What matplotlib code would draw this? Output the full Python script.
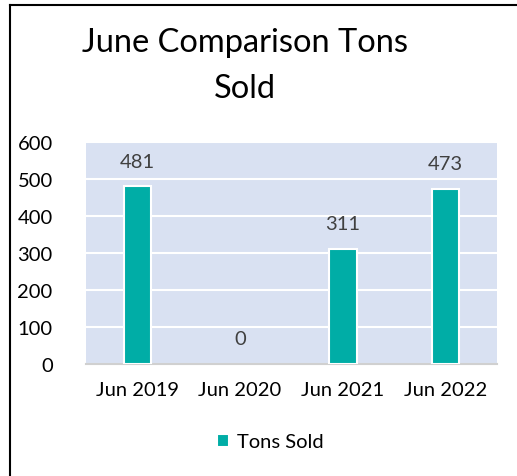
import matplotlib
matplotlib.use("Agg")
import matplotlib.pyplot as plt
from matplotlib.lines import Line2D

# data
months = ["Jun 2019", "Jun 2020", "Jun 2021", "Jun 2022"]
tons = [481, 0, 311, 473]
series_name = "Tons Sold"

plt.rcParams['font.family'] = ['Lato', 'DejaVu Sans']

W, H = 517, 477
fig = plt.figure(figsize=(W / 100, H / 100), dpi=100)
fig.patch.set_facecolor("white")

ax = fig.add_axes([86 / W, 1 - 365 / H, (497 - 86) / W, (365 - 143) / H])
ax.set_facecolor("#D9E1F2")

bar_color = "#00ADA6"
x = range(len(months))
bars = ax.bar(x, tons, width=0.27, color=bar_color, edgecolor="white",
              linewidth=[1.5 if v > 0 else 0 for v in tons], label=series_name, zorder=3)

for xi, v in zip(x, tons):
    ax.annotate(str(v), (xi, v), xytext=(0, 18), textcoords="offset points",
                ha="center", va="center", fontsize=14.5, color="#404040")

ax.set_xlim(-0.5, len(months) - 0.5)
ax.set_ylim(0, 600)
ax.set_yticks(range(0, 601, 100))
ax.set_xticks(list(x))
ax.set_xticklabels(months)
ax.yaxis.grid(True, color="white", linewidth=1.5, zorder=0)
ax.set_axisbelow(True)
for s in ["top", "right", "left"]:
    ax.spines[s].set_visible(False)
ax.spines["bottom"].set_color("#D0D0D0")
ax.spines["bottom"].set_linewidth(1.5)
ax.tick_params(axis="both", length=0, labelsize=14.5, labelcolor="black")
ax.tick_params(axis="y", pad=24)
ax.tick_params(axis="x", pad=12)

fig.text(245 / W, 1 - 28 / H, "June Comparison Tons\nSold", ha="center", va="top",
         multialignment="center", fontsize=23.5, linespacing=1.65, color="black")

fig.legend(handles=[bars], loc="center", bbox_to_anchor=(270 / W, 1 - 443 / H),
           frameon=False, fontsize=14.5, handlelength=0.6, handleheight=0.6,
           handletextpad=0.4)

# outer chart border (left and top visible)
fig.add_artist(Line2D([10 / W, 10 / W], [0, 1 - 6 / H], transform=fig.transFigure,
                      color="black", linewidth=1.5))
fig.add_artist(Line2D([10 / W, 1], [1 - 6 / H, 1 - 6 / H], transform=fig.transFigure,
                      color="black", linewidth=1.5))

fig.savefig("out.png", dpi=100)
